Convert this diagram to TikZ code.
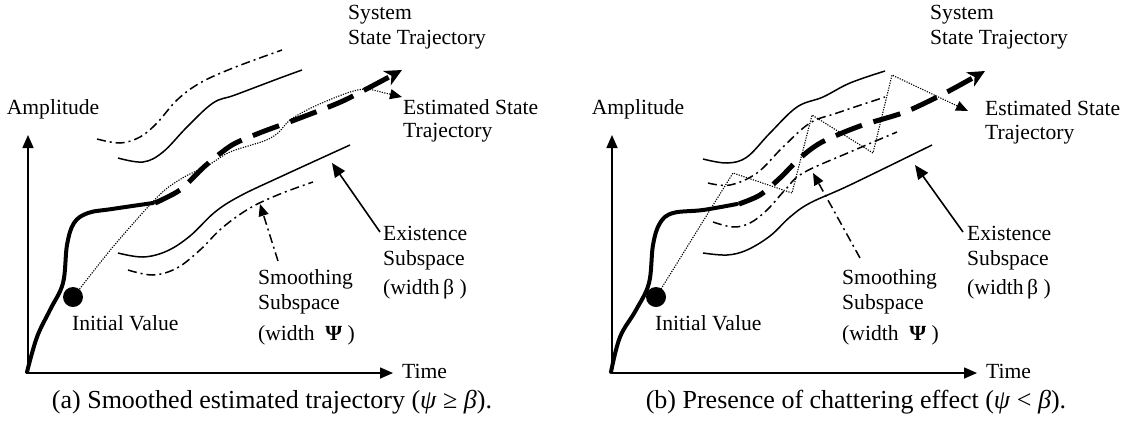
\documentclass[tikz,border=0pt]{standalone}
\usepackage{fontspec}
\setmainfont{Liberation Serif}
\usetikzlibrary{arrows.meta}
\begin{document}
\begin{tikzpicture}[x=1pt,y=-1pt,
  lbl/.style={inner sep=0pt,anchor=west,font=\fontsize{21.6}{25}\selectfont,text height=0.68em,text depth=0.2em},
  captxt/.style={inner sep=0pt,font=\fontsize{26}{30}\selectfont},
  axis/.style={line width=1.6pt,-{Triangle[length=13pt,width=11pt]}},
  thicksys/.style={line width=4pt,line cap=round},
  sysdash/.style={line width=5pt,dash pattern=on 28pt off 12pt,-{Stealth[length=17pt,width=16pt,inset=5pt]}},
  estdot/.style={line width=1.1pt,dash pattern=on 1.2pt off 1.3pt},
  bound/.style={line width=1.5pt},
  smdash/.style={line width=1.5pt,dash pattern=on 9pt off 4pt on 2pt off 4pt},
  ptr/.style={line width=1.6pt,-{Triangle[length=14pt,width=12pt]}},
  tipT/.style={-{Triangle[length=12pt,width=10pt]}},
  ball/.style={circle,fill=black,minimum size=20pt,inner sep=0pt}
]
\useasboundingbox (0,0) rectangle (1129,421);

% ================= Panel (a) =================
\coordinate (oa) at (28,373);
\coordinate (ya) at (28,135);
\coordinate (xa) at (393,373);
\draw[axis] (oa) -- (ya);
\draw[axis] (oa) -- (xa);
\node[lbl,anchor=center] (ampa) at (53,112) {Amplitude};
\node[lbl] (timea) at (402,376) {Time};

% boundaries
\draw[bound] plot[smooth,tension=0.6] coordinates {(118,158)(143,162)(163,152)(187,127)(213,103)(235,95)(280,78)(302,70)};
\draw[bound] plot[smooth,tension=0.6] coordinates {(118,253)(143,257)(167,251)(190,236)(215,212)(240,196)(280,177)(350,145)};
\draw[smdash] plot[smooth,tension=0.6] coordinates {(97,139)(120,143)(140,137)(157,123)(177,100)(200,83)(233,68)(282,50)};
\draw[smdash] plot[smooth,tension=0.6] coordinates {(128,270)(153,275)(177,268)(200,250)(222,228)(250,208)(280,194)(313,182)};

% system trajectory
\draw[thicksys] plot[smooth,tension=0.6] coordinates {(27,372)(37,337)(50,310)(63,283)(67,245)(74,223)(88,213)(112,209)(153,203)};
\draw[sysdash] plot[smooth,tension=0.45] coordinates {(155,203)(180,190)(205,166)(232,145)(262,132)(300,118)(345,100)(402,70)};

% estimated trajectory
\node[ball] (dota) at (73,297) {};
\draw[estdot,tipT] plot[smooth,tension=0.5] coordinates {(78,291)(112,248)(147,208)(166,189)(186,176)(207,166)(230,152)(264,141)(278,133)(290,120)(313,107)(347,93)(366,89)(385,93)(402,97)};

% pointers
\coordinate (sma) at (278,261);
\coordinate (smta) at (260,204);
\draw[smdash,tipT] (sma) -- (smta);
\coordinate (exa) at (380,232);
\coordinate (exta) at (332,163);
\draw[ptr] (exa) -- (exta);

% labels
\node[lbl] (sysa1) at (348,17) {System};
\node[lbl] (sysa2) at (348,42) {State Trajectory};
\node[lbl] (esta1) at (403,112) {Estimated State};
\node[lbl] (esta2) at (403,135) {Trajectory};
\node[lbl] (exla1) at (383,238) {Existence};
\node[lbl] (exla2) at (383,263) {Subspace};
\node[lbl] (exla3) at (383,292) {(width\,β )};
\node[lbl] (smla1) at (258,282) {Smoothing};
\node[lbl] (smla2) at (258,307) {Subspace};
\node[lbl] (smla3) at (258,338) {(width \ \textbf{Ψ} )};
\node[lbl] (inia) at (72,328) {Initial Value};
\node[captxt] (capa) at (272,402) {(a) Smoothed estimated trajectory (\textit{ψ} ≥ \textit{β}).};

% ================= Panel (b) =================
\coordinate (ob) at (612,373);
\coordinate (yb) at (612,135);
\coordinate (xb) at (977,373);
\draw[axis] (ob) -- (yb);
\draw[axis] (ob) -- (xb);
\node[lbl,anchor=center] (ampb) at (638,112) {Amplitude};
\node[lbl] (timeb) at (986,376) {Time};

\draw[bound] plot[smooth,tension=0.6] coordinates {(703,159)(727,163)(747,157)(770,133)(797,107)(823,97)(850,83)(885,71)};
\draw[bound] plot[smooth,tension=0.6] coordinates {(703,253)(727,255)(747,250)(770,236)(790,217)(810,203)(850,185)(932,145)};
\draw[smdash] plot[smooth,tension=0.6] coordinates {(708,183)(730,185)(757,173)(783,147)(810,123)(837,113)(885,97)};
\draw[smdash] plot[smooth,tension=0.6] coordinates {(713,222)(733,227)(750,223)(767,210)(785,190)(803,173)(850,152)(897,132)};

\draw[thicksys] plot[smooth,tension=0.6] coordinates {(611,372)(620,337)(636,310)(649,283)(653,245)(660,223)(673,213)(703,210)(737,204)};
\draw[sysdash] plot[smooth,tension=0.5] coordinates {(739,204)(760,195)(780,178)(800,158)(822,142)(860,126)(905,112)(947,92)(985,71)};

\node[ball] (dotb) at (656,297) {};
\draw[estdot,tipT] (661,289) -- (733,173) -- (792,193) -- (812,115) -- (873,153) -- (892,75) -- (968,111);

\coordinate (smb) at (860,258);
\coordinate (smtb) at (813,173);
\draw[smdash,tipT] (smb) -- (smtb);
\coordinate (exb) at (963,232);
\coordinate (extb) at (915,165);
\draw[ptr] (exb) -- (extb);

\node[lbl] (sysb1) at (930,17) {System};
\node[lbl] (sysb2) at (930,42) {State Trajectory};
\node[lbl] (estb1) at (985,113) {Estimated State};
\node[lbl] (estb2) at (985,137) {Trajectory};
\node[lbl] (exlb1) at (967,238) {Existence};
\node[lbl] (exlb2) at (967,263) {Subspace};
\node[lbl] (exlb3) at (967,292) {(width\,β )};
\node[lbl] (smlb1) at (842,282) {Smoothing};
\node[lbl] (smlb2) at (842,307) {Subspace};
\node[lbl] (smlb3) at (842,338) {(width \ \textbf{Ψ} )};
\node[lbl] (inib) at (655,328) {Initial Value};
\node[captxt] (capb) at (856,402) {(b) Presence of chattering effect (\textit{ψ} < \textit{β}).};
\end{tikzpicture}
\end{document}
